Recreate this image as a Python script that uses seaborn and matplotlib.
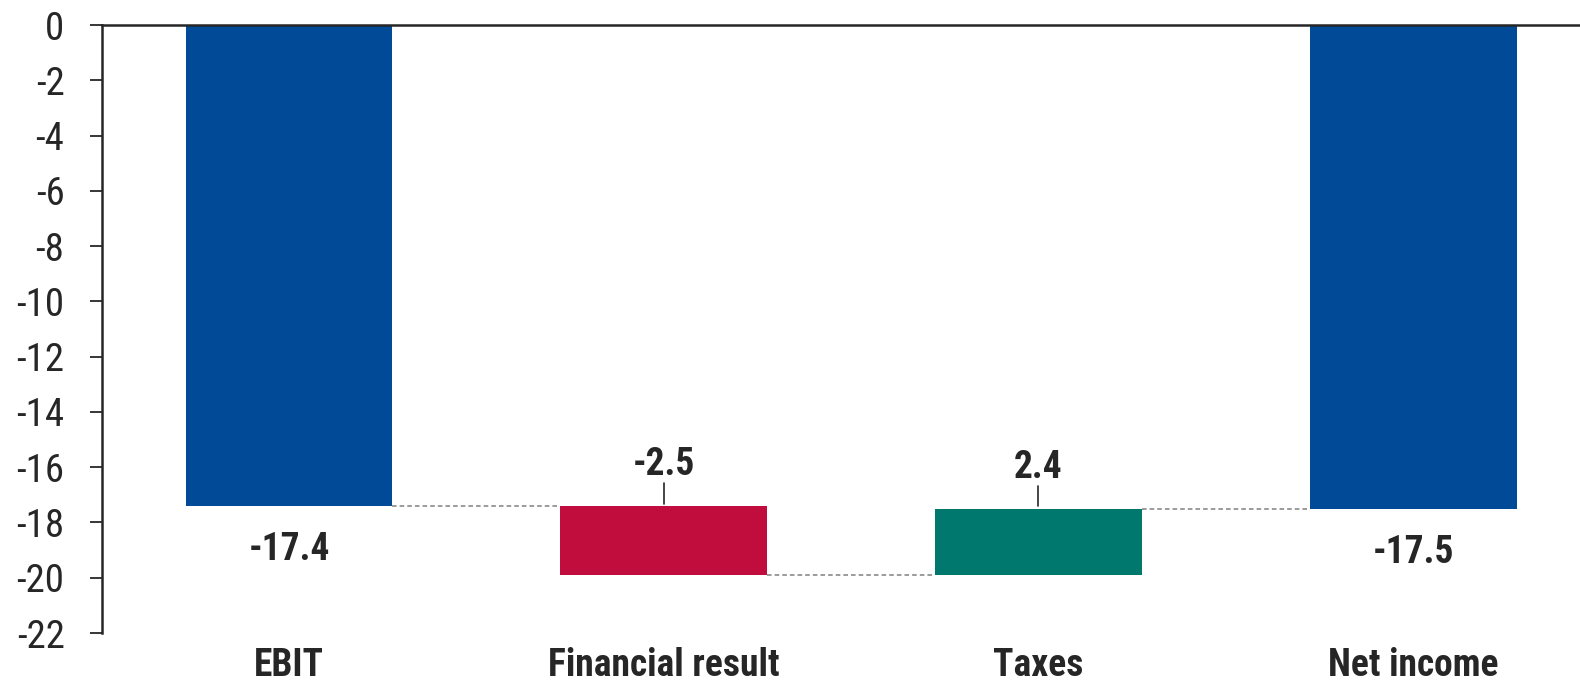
import numpy as np
import pandas as pd
import matplotlib
matplotlib.use('Agg')
import matplotlib.pyplot as plt
import seaborn as sns

# Chart data
categories = ['EBIT', 'Financial result', 'Taxes', 'Net income']
values = [-17.4, -2.5, 2.4, -17.5]
is_total = [True, False, False, True]
labels = ['-17.4', '-2.5', '2.4', '-17.5']
colors = ['#004A97', '#C10D3D', '#00786E', '#004A97']
yticks = list(range(0, -24, -2))

sns.set_theme(style='white')
plt.rcParams['font.family'] = ['Roboto Condensed', 'Archivo Narrow', 'DejaVu Sans']

FS = 28
FS_BOLD = 27
TXT = '#262626'

# running totals for the waterfall
bottoms = []
ends = []
running = 0.0
for v, tot in zip(values, is_total):
    if tot:
        bottoms.append(0.0)
        running = v
    else:
        bottoms.append(running)
        running = running + v
    ends.append(running)

df = pd.DataFrame({'category': categories, 'value': values})

fig = plt.figure(figsize=(15.8, 6.85), dpi=100)
ax = fig.add_axes([102 / 1580, 1 - 633 / 685, 1 - 102 / 1580, (633 - 25) / 685])

bar_width = 0.552
sns.barplot(data=df, x='category', y='value', bottom=bottoms, width=bar_width,
            color=colors[0], saturation=1, ax=ax)
for patch, c in zip(ax.patches, colors):
    patch.set_facecolor(c)
    patch.set_edgecolor('none')

# dashed connectors between bars
for i in range(len(categories) - 1):
    level = ends[i]
    ax.plot([i + bar_width / 2, i + 1 - bar_width / 2], [level, level],
            color='#808080', lw=1.1, ls=(0, (3, 2)), zorder=1)

# value labels
for i, (v, tot) in enumerate(zip(values, is_total)):
    if tot:
        ax.text(i, v - 1.95, labels[i], ha='center', va='baseline',
                fontsize=FS_BOLD, fontweight='bold', color=TXT)
    else:
        top = max(bottoms[i], bottoms[i] + v)
        ax.plot([i, i], [top + 0.08, top + 0.82], color=TXT, lw=1.2)
        ax.text(i, top + 1.12, labels[i], ha='center', va='baseline',
                fontsize=FS_BOLD, fontweight='bold', color=TXT)

ax.set_ylim(-22, 0)
ax.set_xlim(-0.499, 3.445)
ax.set_yticks(yticks)
ax.set_yticklabels([str(t) for t in yticks])
ax.set_xlabel('')
ax.set_ylabel('')

for s in ['bottom', 'right']:
    ax.spines[s].set_visible(False)
for s in ['left', 'top']:
    ax.spines[s].set_visible(True)
    ax.spines[s].set_color(TXT)
    ax.spines[s].set_linewidth(1.8)

ax.tick_params(axis='y', which='both', left=True, length=9, width=1.3,
               color=TXT, labelsize=FS, labelcolor=TXT, pad=18)
ax.tick_params(axis='x', which='both', bottom=False, top=False, length=0,
               labelsize=FS_BOLD, labelcolor=TXT, pad=10)
for lab in ax.get_xticklabels():
    lab.set_fontweight('bold')

fig.savefig('out.png', dpi=100)
